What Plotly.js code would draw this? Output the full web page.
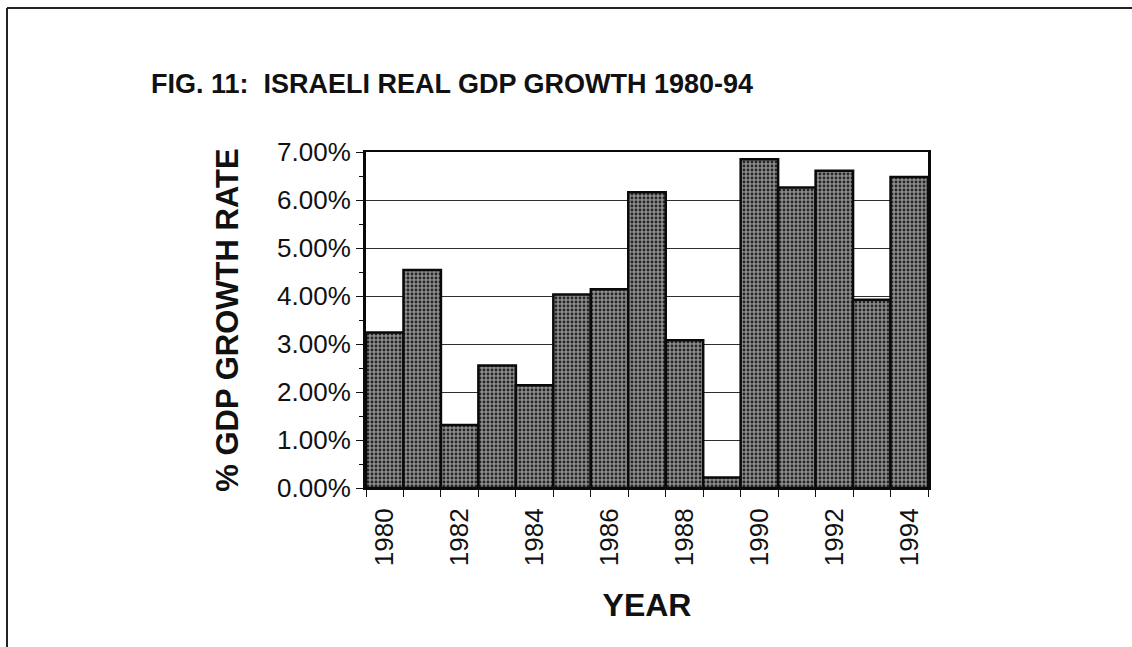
<!DOCTYPE html>
<html>
<head>
<meta charset="utf-8">
<script src="https://cdn.plot.ly/plotly-3.0.1.min.js"></script>
<style>
  html, body { margin: 0; padding: 0; background: #ffffff; }
  #chart { width: 1132px; height: 647px; }
</style>
</head>
<body>
<div id="chart"></div>
<script>
// ---- data ----
const years = [1980, 1981, 1982, 1983, 1984, 1985, 1986, 1987, 1988, 1989, 1990, 1991, 1992, 1993, 1994];
const growth = [0.0324, 0.0454, 0.0131, 0.0255, 0.0214, 0.0403, 0.0414, 0.0616, 0.0308, 0.0022, 0.0685, 0.0626, 0.0661, 0.0392, 0.0648];
const labelYears = [1980, 1982, 1984, 1986, 1988, 1990, 1992, 1994];
const labelText = labelYears.map(String);
const titleText = "FIG. 11:&nbsp; ISRAELI REAL GDP GROWTH 1980-94";
const yTitle = "% GDP GROWTH RATE";
const xTitle = "YEAR";

const boundaries = years.map(y => y - 0.5).concat([years[years.length - 1] + 0.5]);
const FONT = "Liberation Sans, Arial, Helvetica, sans-serif";

const trace = {
  type: "bar",
  x: years,
  y: growth,
  width: 1,
  marker: {
    color: "#7a7a7a",
    pattern: { shape: ".", bgcolor: "#8c8c8c", fgcolor: "#262626", size: 4, solidity: 0.4 },
    line: { color: "#0a0a0a", width: 2.5 }
  },
  hoverinfo: "x+y"
};

// page frame (top and left rules) in paper coords relative to plot area
const L = 366, R = 928, T = 152, B = 488, W = 1132, H = 647;
const px = v => (v - L) / (R - L);
const py = v => (B - v) / (B - T);

const layout = {
  width: W, height: H,
  margin: { l: L, r: W - R, t: T, b: H - B, pad: 0 },
  paper_bgcolor: "#ffffff",
  plot_bgcolor: "#ffffff",
  showlegend: false,
  bargap: 0,
  font: { family: FONT, color: "#111111", size: 26 },
  title: {
    text: titleText,
    font: { family: FONT, size: 27, weight: "bold", color: "#111111" },
    x: 452 / W, xanchor: "center", xref: "container",
    y: 1 - 84 / H, yanchor: "middle", yref: "container"
  },
  xaxis: {
    type: "linear",
    range: [years[0] - 0.5, years[years.length - 1] + 0.5],
    tickmode: "array",
    tickvals: labelYears,
    ticktext: labelText,
    tickangle: -90,
    ticks: "",
    ticklabelstandoff: 8,
    tickfont: { family: FONT, size: 26, color: "#111111" },
    showgrid: false,
    zeroline: false,
    showline: true, linecolor: "#0a0a0a", linewidth: 2, mirror: true,
    minor: { tickmode: "array", tickvals: boundaries, ticks: "outside", ticklen: 7, tickwidth: 1, tickcolor: "#111111", showgrid: false },
    title: { text: xTitle, font: { family: FONT, size: 32, weight: "bold", color: "#111111" }, standoff: 28 },
    automargin: false
  },
  yaxis: {
    range: [0, 0.07],
    tickmode: "linear", tick0: 0, dtick: 0.01,
    tickformat: ".2%",
    ticks: "outside", ticklen: 7, tickwidth: 1, tickcolor: "#111111",
    tickfont: { family: FONT, size: 26, color: "#111111" },
    showgrid: true, gridcolor: "#2e2e2e", gridwidth: 1,
    zeroline: false,
    showline: true, linecolor: "#0a0a0a", linewidth: 3, mirror: true,
    minor: { dtick: 0.005, ticks: "outside", ticklen: 4, tickwidth: 1, tickcolor: "#111111", showgrid: false },
    title: { text: yTitle, font: { family: FONT, size: 31, weight: "bold", color: "#111111" }, standoff: 30 },
    automargin: false
  },
  shapes: [
    { type: "line", xref: "paper", yref: "paper", x0: px(7), x1: px(W), y0: py(8), y1: py(8), line: { color: "#222222", width: 2 } },
    { type: "line", xref: "paper", yref: "paper", x0: px(7), x1: px(7), y0: py(8), y1: py(H), line: { color: "#222222", width: 2 } }
  ]
};

Plotly.newPlot("chart", [trace], layout, { displayModeBar: false, staticPlot: true });
</script>
</body>
</html>
